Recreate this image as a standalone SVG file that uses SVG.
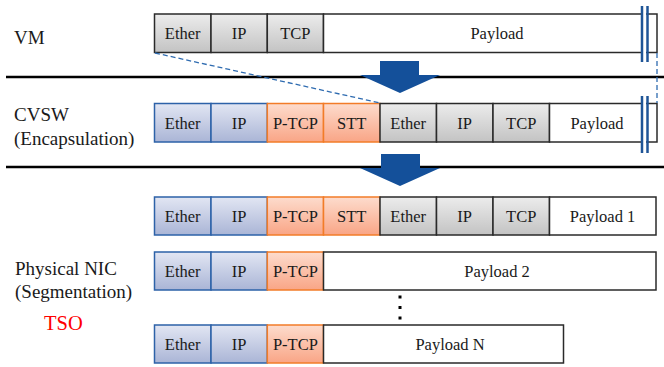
<svg xmlns="http://www.w3.org/2000/svg" width="664" height="367" viewBox="0 0 664 367">
<defs>
<linearGradient id="gGray" x1="0" y1="0" x2="0" y2="1"><stop offset="0" stop-color="#ececec"/><stop offset="1" stop-color="#c3c3c3"/></linearGradient>
<linearGradient id="gBlue" x1="0" y1="0" x2="0" y2="1"><stop offset="0" stop-color="#e2e6f3"/><stop offset="1" stop-color="#aab5d6"/></linearGradient>
<linearGradient id="gOrange" x1="0" y1="0" x2="0" y2="1"><stop offset="0" stop-color="#fddccd"/><stop offset="1" stop-color="#f9a586"/></linearGradient>
</defs>
<style>
.gray{fill:url(#gGray);stroke:#2a2a2a;stroke-width:1.5}
.blue{fill:url(#gBlue);stroke:#2d62a8;stroke-width:1.5}
.orange{fill:url(#gOrange);stroke:#f27c28;stroke-width:1.5}
.pay{fill:#fff;stroke:#2a2a2a;stroke-width:1.5}
text{font-family:'Liberation Serif','DejaVu Serif','Times New Roman',serif}
.t{font-size:16.5px;fill:#1a1a1a;text-anchor:middle}
.lbl{font-size:19px;fill:#1a1a1a}
.tso{font-size:20.5px;fill:#ff0000}
.sep{stroke:#000;stroke-width:2.5}
.dash{stroke:#2e6bb0;stroke-width:1.3;stroke-dasharray:5 3;fill:none}
.bar{stroke:#1f5597;stroke-width:2.5}
.arrow{fill:#14509a}
</style>

<g id="separators">
<line class="sep" x1="6" y1="77" x2="664" y2="77"/>
<line class="sep" x1="6" y1="167" x2="664" y2="167"/>
</g>

<g id="labels" font-family="Liberation Serif, DejaVu Serif, serif">
<text class="lbl" x="14" y="44">VM</text>
<text class="lbl" x="14" y="121">CVSW</text>
<text class="lbl" x="14" y="145">(Encapsulation)</text>
<text class="lbl" x="15" y="275">Physical NIC</text>
<text class="lbl" x="15" y="298">(Segmentation)</text>
<text class="tso" x="44" y="330">TSO</text>
</g>

<g id="vm-packet">
<rect class="gray" x="154.5" y="14" width="56.5" height="38.5"/><text class="t" x="182.7" y="39">Ether</text>
<rect class="gray" x="211" y="14" width="56.3" height="38.5"/><text class="t" x="239.2" y="39">IP</text>
<rect class="gray" x="267.3" y="14" width="56.2" height="38.5"/><text class="t" x="295.4" y="39">TCP</text>
<rect class="pay" x="323.5" y="14" width="333.5" height="38.5"/><text class="t" x="497" y="39">Payload</text>
<rect x="643" y="10" width="3" height="48" fill="#fff"/>
<line class="bar" x1="642" y1="6" x2="642" y2="62"/>
<line class="bar" x1="647.5" y1="6" x2="647.5" y2="62"/>
</g>

<g id="cvsw-packet">
<rect class="blue" x="154.5" y="103.5" width="56.5" height="38.5"/><text class="t" x="182.7" y="128.5">Ether</text>
<rect class="blue" x="211" y="103.5" width="56.3" height="38.5"/><text class="t" x="239.2" y="128.5">IP</text>
<rect class="orange" x="267.3" y="103.5" width="56.2" height="38.5"/><text class="t" x="295.4" y="128.5">P-TCP</text>
<rect class="orange" x="323.5" y="103.5" width="56.5" height="38.5"/><text class="t" x="351.7" y="128.5">STT</text>
<rect class="gray" x="380" y="103.5" width="56.5" height="38.5"/><text class="t" x="408.2" y="128.5">Ether</text>
<rect class="gray" x="436.5" y="103.5" width="56.5" height="38.5"/><text class="t" x="464.7" y="128.5">IP</text>
<rect class="gray" x="493" y="103.5" width="56.5" height="38.5"/><text class="t" x="521.2" y="128.5">TCP</text>
<rect class="pay" x="549.5" y="103.5" width="107.5" height="38.5"/><text class="t" x="597" y="128.5">Payload</text>
<rect x="643" y="99" width="3" height="48" fill="#fff"/>
<line class="bar" x1="642" y1="96" x2="642" y2="153"/>
<line class="bar" x1="647.5" y1="96" x2="647.5" y2="153"/>
</g>

<g id="segment-1">
<rect class="blue" x="154.5" y="197" width="56.5" height="38"/><text class="t" x="182.7" y="222">Ether</text>
<rect class="blue" x="211" y="197" width="56.3" height="38"/><text class="t" x="239.2" y="222">IP</text>
<rect class="orange" x="267.3" y="197" width="56.2" height="38"/><text class="t" x="295.4" y="222">P-TCP</text>
<rect class="orange" x="323.5" y="197" width="56.5" height="38"/><text class="t" x="351.7" y="222">STT</text>
<rect class="gray" x="380" y="197" width="56.5" height="38"/><text class="t" x="408.2" y="222">Ether</text>
<rect class="gray" x="436.5" y="197" width="56.5" height="38"/><text class="t" x="464.7" y="222">IP</text>
<rect class="gray" x="493" y="197" width="56.5" height="38"/><text class="t" x="521.2" y="222">TCP</text>
<rect class="pay" x="549.5" y="197" width="106.5" height="38"/><text class="t" x="602.5" y="222">Payload 1</text>
</g>

<g id="segment-2">
<rect class="blue" x="154.5" y="252" width="56.5" height="38"/><text class="t" x="182.7" y="277">Ether</text>
<rect class="blue" x="211" y="252" width="56.3" height="38"/><text class="t" x="239.2" y="277">IP</text>
<rect class="orange" x="267.3" y="252" width="56.2" height="38"/><text class="t" x="295.4" y="277">P-TCP</text>
<rect class="pay" x="323.5" y="252" width="332.5" height="38"/><text class="t" x="497" y="277">Payload 2</text>
</g>

<g id="ellipsis">
<rect x="398.5" y="295.5" width="3" height="3" fill="#000"/>
<rect x="398.5" y="306" width="3" height="3" fill="#000"/>
<rect x="398.5" y="316.5" width="3" height="3" fill="#000"/>
</g>

<g id="segment-n">
<rect class="blue" x="154.5" y="325" width="56.5" height="38"/><text class="t" x="182.7" y="350">Ether</text>
<rect class="blue" x="211" y="325" width="56.3" height="38"/><text class="t" x="239.2" y="350">IP</text>
<rect class="orange" x="267.3" y="325" width="56.2" height="38"/><text class="t" x="295.4" y="350">P-TCP</text>
<rect class="pay" x="323.5" y="325" width="240" height="38"/><text class="t" x="450" y="350">Payload N</text>
</g>

<g id="connectors">
<line class="dash" x1="155" y1="53" x2="380" y2="103"/>
<line class="dash" x1="657" y1="53" x2="657" y2="103"/>
<polygon class="arrow" points="380,61 419,61 419,75 440,75 400,93 360,75 380,75"/>
<polygon class="arrow" points="381,154 420,154 420,168 440,168 400,186 360,168 381,168"/>
</g>
</svg>
